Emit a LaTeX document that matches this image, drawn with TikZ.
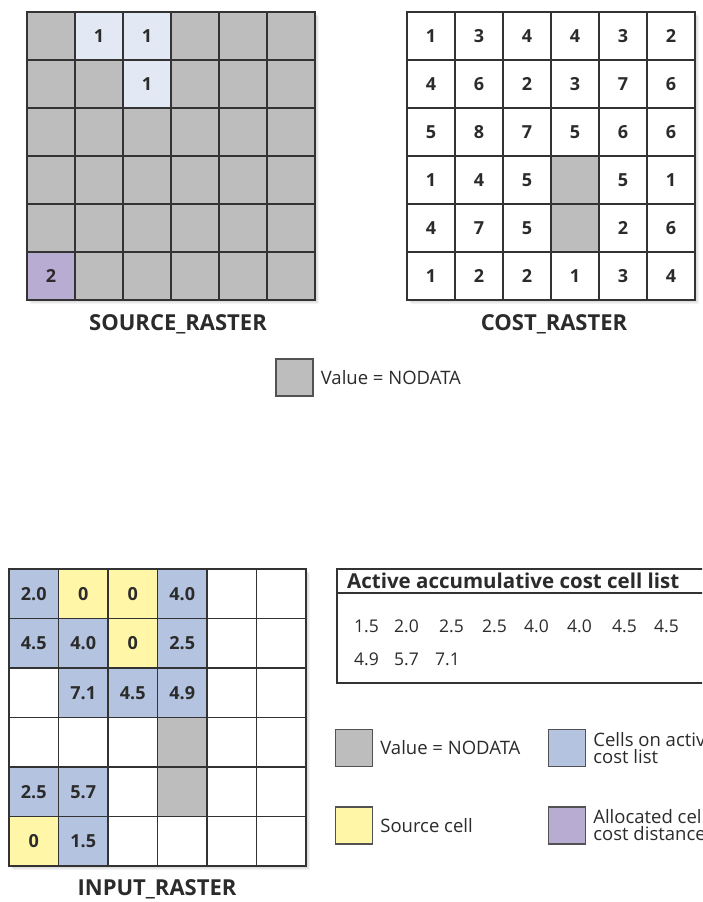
\documentclass[tikz,border=0pt]{standalone}
\usepackage{fontspec}
\setmainfont{Open Sans}
\usetikzlibrary{positioning}
\definecolor{kn}{HTML}{BDBDBD}
\definecolor{ks}{HTML}{E3E9F4}
\definecolor{kp}{HTML}{B9ACD3}
\definecolor{ka}{HTML}{B4C3DF}
\definecolor{ky}{HTML}{FFF6A8}
\definecolor{kw}{HTML}{FFFFFF}
\definecolor{cInk}{HTML}{2B2B2B}
\definecolor{cLine}{HTML}{333333}
\definecolor{cShadow}{HTML}{8C8C8C}
\tikzset{
  val/.style={font=\fontsize{18}{20}\selectfont\bfseries, text=cInk, inner sep=0pt},
  rlabel/.style={font=\fontsize{22}{24}\selectfont\bfseries, text=cInk, inner sep=0pt},
  ltext/.style={font=\fontsize{18.5}{17}\selectfont, text=cInk, anchor=west,
    inner sep=0pt, align=left},
}

\begin{document}
\begin{tikzpicture}[
  x=1pt, y=-1pt,
  key/.style={draw=cLine!85, line width=1.3pt, minimum size=37pt, inner sep=0pt},
  hdr/.style={font=\fontsize{20.5}{22}\selectfont\bfseries, text=cInk, anchor=west,
    inner sep=0pt},
  lnum/.style={font=\fontsize{17.5}{19}\selectfont, text=cInk, anchor=west, inner sep=0pt},
]
\useasboundingbox (0,0) rectangle (702,902);
\clip (0,0) rectangle (702,902);
\fill[white] (0,0) rectangle (702,902);
\def\nd{-}
% a 6x6 raster: name, left, top, cell size, rows of colour/value
\newcommand{\raster}[5]{%
  \foreach \k in {1,...,4} {\fill[cShadow, opacity=0.1] ({#2+\k},{#3+\k}) rectangle ++({6*#4},{6*#4});}
  \foreach \row [count=\r] in {#5} {
    \foreach \f/\v [count=\c] in \row {
      \fill[fill=k\f] ({#2+(\c-1)*#4},{#3+(\r-1)*#4}) rectangle ++(#4,#4);
      \ifx\v\nd\else
        \node[val] (#1-\r-\c) at ({#2+(\c-0.5)*#4},{#3+(\r-0.5)*#4}) {\v};
      \fi}}
  \foreach \k in {1,...,5} {
    \draw[cLine, line width=1.1pt] ({#2+\k*#4},#3) -- ++(0,{6*#4});
    \draw[cLine, line width=1.1pt] (#2,{#3+\k*#4}) -- ++({6*#4},0);}
  \draw[cLine, line width=1.6pt] (#2,#3) rectangle ++({6*#4},{6*#4});}

% ============================================================ top row
\raster{src}{27}{12}{48}{
  {n/-,s/1,s/1,n/-,n/-,n/-},
  {n/-,n/-,s/1,n/-,n/-,n/-},
  {n/-,n/-,n/-,n/-,n/-,n/-},
  {n/-,n/-,n/-,n/-,n/-,n/-},
  {n/-,n/-,n/-,n/-,n/-,n/-},
  {p/2,n/-,n/-,n/-,n/-,n/-}}
\node[rlabel] (srclab) at (178,324) {SOURCE\_RASTER};

\raster{cost}{407}{12}{48}{
  {w/1,w/3,w/4,w/4,w/3,w/2},
  {w/4,w/6,w/2,w/3,w/7,w/6},
  {w/5,w/8,w/7,w/5,w/6,w/6},
  {w/1,w/4,w/5,n/-,w/5,w/1},
  {w/4,w/7,w/5,n/-,w/2,w/6},
  {w/1,w/2,w/2,w/1,w/3,w/4}}
\node[rlabel] (costlab) at (554,324) {COST\_RASTER};

\node[key, fill=kn] (ndtop) at (294.5,377.5) {};
\node[ltext, right=7pt of ndtop] (ndtoptxt) {Value = NODATA};

% ========================================================= bottom row
\raster{in}{9}{569}{49.5}{
  {a/2.0,y/0,y/0,a/4.0,w/-,w/-},
  {a/4.5,a/4.0,y/0,a/2.5,w/-,w/-},
  {w/-,a/7.1,a/4.5,a/4.9,w/-,w/-},
  {w/-,w/-,w/-,n/-,w/-,w/-},
  {a/2.5,a/5.7,w/-,n/-,w/-,w/-},
  {y/0,a/1.5,w/-,w/-,w/-,w/-}}
\node[rlabel] (inlab) at (157,889) {INPUT\_RASTER};

% active list
\draw[cLine, line width=1.3pt] (337,569) rectangle (740,683);
\draw[cLine, line width=1.3pt] (337,593) -- (740,593);
\node[hdr] (lhead) at (347,581) {Active accumulative cost cell list};
\foreach \x/\v [count=\i] in {354/1.5,394/2.0,439/2.5,482/2.5,524/4.0,567/4.0,612/4.5,654/4.5}
  {\node[lnum] (lst-\i) at (\x,626) {\v};}
\foreach \x/\v [count=\i] in {354/4.9,394/5.7,435/7.1}
  {\node[lnum] (lst2-\i) at (\x,659) {\v};}

% legend
\node[key, fill=kn] (knd) at (354,748) {};
\node[ltext, right=7pt of knd] (kndtxt) {Value = NODATA};
\node[key, fill=ka] (kact) at (567,748) {};
\node[ltext, right=7pt of kact] (kacttxt) {Cells on active\\cost list};
\node[key, fill=ky] (ksrc) at (354,825.5) {};
\node[ltext, right=7pt of ksrc] (ksrctxt) {Source cell};
\node[key, fill=kp] (kall) at (567,825.5) {};
\node[ltext, right=7pt of kall] (kalltxt) {Allocated cell\\cost distance};
\end{tikzpicture}
\end{document}
